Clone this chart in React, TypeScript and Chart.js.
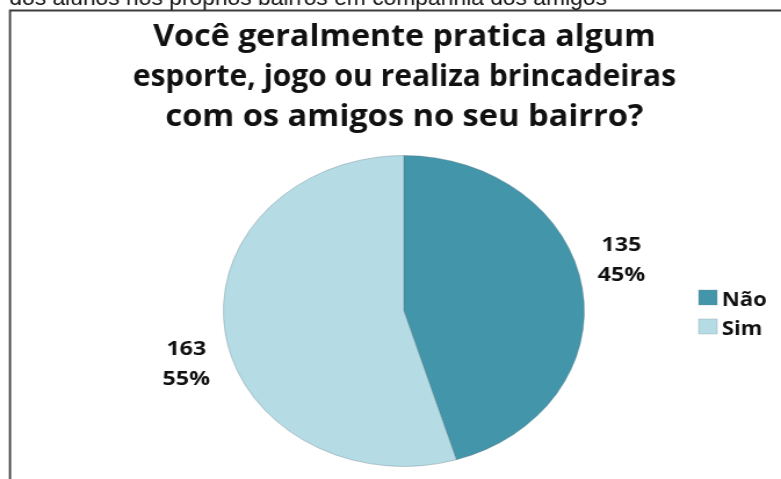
import { useEffect, useRef } from 'react';
import { Chart, registerables } from 'chart.js';

Chart.register(...registerables);

const categories = ['Não', 'Sim'];
const values = [135, 163];
const colors = ['#4395AA', '#B5DCE5'];
const titleLines = [
  'Você geralmente pratica algum',
  'esporte, jogo ou realiza brincadeiras',
  'com os amigos no seu bairro?',
];
const topText = 'dos alunos nos próprios bairros em companhia dos amigos';

const W = 673;
const H = 479;

export default function App() {
  const ref = useRef<HTMLCanvasElement>(null);

  useEffect(() => {
    const canvas = ref.current!;
    const total = values.reduce((a, b) => a + b, 0);

    const overlay = {
      id: 'overlay',
      afterDraw(chart: any) {
        const ctx: CanvasRenderingContext2D = chart.ctx;
        ctx.save();
        // frame
        ctx.strokeStyle = '#3c3c3c';
        ctx.lineWidth = 1.8;
        ctx.beginPath();
        ctx.moveTo(8.6, H);
        ctx.lineTo(8.6, 10.5);
        ctx.lineTo(W, 10.5);
        ctx.stroke();

        // clipped top text
        ctx.fillStyle = '#111';
        ctx.font = '22px "Liberation Sans", Arial, sans-serif';
        ctx.textAlign = 'left';
        ctx.textBaseline = 'alphabetic';
        {
          const m = ctx.measureText(topText).width;
          ctx.save();
          ctx.translate(8, 4.5);
          ctx.scale(515 / m, 1);
          ctx.fillText(topText, 0, 0);
          ctx.restore();
        }

        // title (each line fitted to its width in the reference)
        ctx.font = 'bold 31px "Open Sans", sans-serif';
        ctx.textAlign = 'center';
        const widths = [433, 468, 412];
        const baselines = [46, 86, 126];
        titleLines.forEach((line, i) => {
          const s = widths[i] / ctx.measureText(line).width;
          ctx.save();
          ctx.translate(348.5, baselines[i]);
          ctx.scale(s, 1);
          ctx.fillText(line, 0, 0);
          ctx.restore();
        });

        // data labels
        const meta = chart.getDatasetMeta(0);
        ctx.font = 'bold 20px "Open Sans", sans-serif';
        ctx.textAlign = 'center';
        meta.data.forEach((arc: any, i: number) => {
          const p = arc.getProps(['x', 'y', 'startAngle', 'endAngle', 'outerRadius'], true);
          const a = (p.startAngle + p.endAngle) / 2 - (7 * Math.PI) / 180;
          const r = p.outerRadius + 39;
          const lx = p.x + Math.cos(a) * r;
          const ly = p.y + Math.sin(a) * r;
          const pct = Math.round((values[i] / total) * 100) + '%';
          ctx.fillText(String(values[i]), lx, ly - 8);
          ctx.fillText(pct, lx, ly + 22);
        });

        // legend
        ctx.textAlign = 'left';
        ctx.font = 'bold 19px "Open Sans", sans-serif';
        categories.forEach((c, i) => {
          const top = 290 + i * 29;
          ctx.fillStyle = colors[i];
          ctx.fillRect(602, top, 16, 15);
          ctx.strokeStyle = 'rgba(120,140,150,0.5)';
          ctx.lineWidth = 0.6;
          ctx.strokeRect(602, top, 16, 15);
          ctx.fillStyle = '#111';
          ctx.fillText(c, 622, top + 16);
        });
        ctx.restore();
      },
    };

    const chart = new Chart(canvas, {
      type: 'pie',
      data: {
        labels: categories,
        datasets: [
          {
            data: values,
            backgroundColor: colors,
            borderColor: 'rgba(90,115,125,0.35)',
            borderWidth: 1,
          },
        ],
      },
      options: {
        responsive: false,
        animation: false,
        devicePixelRatio: 1,
        layout: { padding: { left: 192, right: 169, top: 155, bottom: 12 } },
        plugins: {
          legend: { display: false },
          title: { display: false },
          tooltip: { enabled: false },
        },
      },
      plugins: [overlay],
    });
    return () => chart.destroy();
  }, []);

  return (
    <canvas
      ref={ref}
      width={W}
      height={H}
      style={{ position: 'absolute', left: 0, top: 0, width: '781px', height: '479px' }}
    />
  );
}
